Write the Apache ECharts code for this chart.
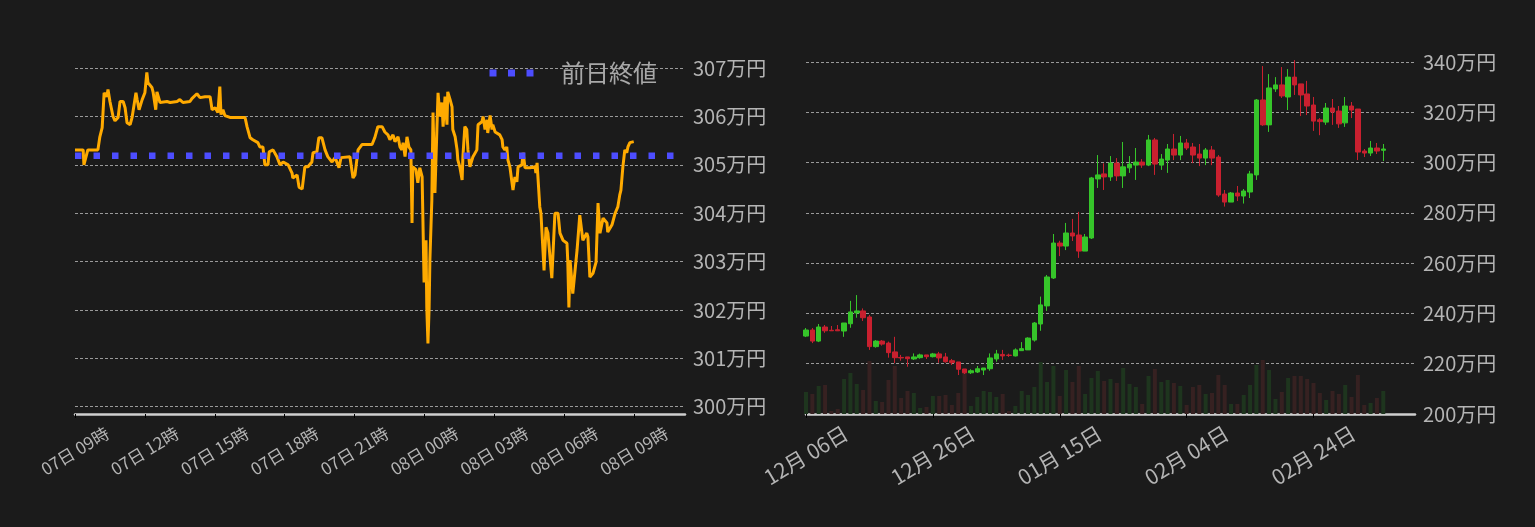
<!DOCTYPE html>
<html><head><meta charset="utf-8">
<script src="https://cdn.jsdelivr.net/npm/echarts@6/dist/echarts.min.js"></script>
<style>html,body{margin:0;padding:0;background:#1b1b1b;}#c{width:1535px;height:527px;}</style>
</head><body><div id="c"></div>
<script>
// ---- Intraday (left) : minutes since 07日 09:00, price in 万円 ----
const intradayMinutes = [0,21,23,28,33,59,64,70,75,82,85,90,95,98,103,111,116,124,129,134,142,147,149,157,160,165,173,180,185,188,198,201,208,211,214,219,237,245,263,270,278,296,301,314,322,335,348,353,361,368,373,376,381,386,399,417,438,443,451,458,471,476,484,489,497,500,510,520,528,536,549,559,561,572,577,585,587,592,600,610,613,623,628,636,644,651,662,670,680,685,708,716,721,729,739,765,772,780,791,798,806,811,819,824,832,837,842,845,850,855,860,865,868,870,878,883,888,894,896,899,901,904,906,909,912,914,919,922,927,932,935,940,945,948,953,958,960,966,971,973,979,984,986,991,997,999,1004,1009,1012,1017,1022,1025,1035,1038,1048,1051,1056,1061,1063,1069,1074,1076,1082,1087,1094,1100,1102,1107,1112,1115,1120,1125,1128,1133,1138,1141,1151,1154,1159,1172,1185,1187,1190,1195,1197,1200,1205,1208,1213,1218,1228,1236,1244,1249,1257,1267,1269,1272,1275,1280,1282,1293,1300,1308,1318,1321,1326,1334,1342,1347,1352,1360,1370,1372,1383,1391,1398,1403,1406,1411,1416,1421,1424,1429,1439];
const intradayPrices = [305.31,305.31,305.00,305.00,305.31,305.31,305.58,305.77,306.49,306.41,306.56,306.31,306.29,306.00,305.91,305.98,306.31,306.31,306.18,305.87,305.83,305.98,306.00,306.49,306.35,306.14,306.35,306.49,306.91,306.70,306.60,306.51,306.14,306.51,306.51,306.29,306.31,306.29,306.31,306.35,306.29,306.31,306.37,306.47,306.39,306.41,306.41,306.14,306.18,306.08,306.62,306.04,306.14,306.02,305.98,305.98,305.98,305.79,305.56,305.52,305.46,305.37,305.37,305.00,305.00,305.27,305.31,305.17,305.00,305.06,305.00,304.83,304.73,304.79,304.54,304.50,304.52,304.96,304.96,305.06,305.25,305.27,305.56,305.56,305.31,305.17,305.06,305.15,304.94,305.15,305.17,304.73,304.79,305.31,305.42,305.42,305.56,305.79,305.79,305.68,305.62,305.52,305.62,305.48,305.58,305.37,305.31,305.46,305.17,305.58,305.37,305.31,303.80,304.96,304.90,304.63,304.94,304.75,304.75,302.57,303.13,303.44,302.05,301.31,302.05,303.03,304.27,306.08,304.42,305.73,306.49,306.00,306.29,305.79,306.41,305.83,306.51,306.35,306.20,305.73,305.58,305.31,305.10,304.96,304.69,305.17,305.79,305.73,305.31,304.96,304.96,305.17,305.31,305.83,305.89,306.00,305.73,305.93,305.66,306.02,305.73,305.83,305.68,305.66,305.62,305.52,305.37,305.31,305.37,305.10,304.96,304.94,304.48,304.75,304.65,304.96,305.00,305.25,304.94,304.94,304.96,304.83,305.04,305.04,304.13,304.00,304.00,302.82,303.71,303.59,302.66,304.00,304.00,303.59,303.44,303.38,303.03,302.05,303.03,303.03,302.34,303.24,303.96,303.44,303.59,303.51,302.68,302.76,302.99,304.21,303.59,303.90,303.80,303.61,303.76,304.00,304.13,304.38,304.48,304.96,305.31,305.25,305.37,305.46,305.48];
const prevClose = 305.19;
const intradayAxisEnd = 1571;
const timeTickMinutes = [0,180,360,540,720,900,1080,1260,1440];
const timeTickLabels = ['07日 09時','07日 12時','07日 15時','07日 18時','07日 21時','08日 00時','08日 03時','08日 06時','08日 09時'];

// ---- Daily candles (right), 万円 ----
const dailyStart = Date.UTC(2023, 11, 6);
const dailyCategoryCount = 97;
const opens  = [231.0,233.4,229.0,234.6,233.3,233.5,233.0,235.9,240.2,241.0,238.6,226.8,229.0,228.2,224.7,222.5,222.7,221.9,222.4,223.5,222.8,223.9,222.7,221.2,220.7,217.9,216.4,216.7,217.5,218.0,221.9,223.7,223.4,223.1,225.2,225.5,229.4,235.8,243.0,254.1,268.0,266.8,272.0,271.2,264.8,270.0,293.5,295.5,294.3,299.8,294.7,297.9,299.0,300.2,299.0,309.0,299.0,301.0,305.4,303.0,307.8,306.2,303.4,301.8,305.0,302.2,287.5,284.3,287.9,286.7,288.3,295.1,324.9,315.0,329.3,330.9,326.1,334.0,331.3,327.3,322.9,317.0,316.1,321.7,320.5,315.8,322.5,321.3,304.6,303.8,305.8,304.9];
const closes = [233.4,229.0,234.6,233.1,233.1,233.1,236.2,240.6,241.0,238.3,226.8,229.0,227.8,224.4,222.4,222.3,222.0,222.7,223.5,222.8,223.9,222.3,220.8,220.4,217.8,216.4,217.2,218.0,218.3,222.3,223.9,223.1,223.3,225.5,226.0,230.2,236.2,243.4,254.5,268.0,266.8,272.0,270.8,264.8,270.4,293.9,295.1,294.3,299.8,294.7,298.3,299.4,300.2,299.0,309.0,299.4,301.4,305.4,303.0,307.8,305.8,303.0,301.8,305.0,301.8,287.1,284.3,287.9,286.7,288.7,295.5,324.9,315.0,329.7,330.9,326.5,334.0,330.9,326.9,322.5,316.5,316.3,321.7,320.1,315.4,322.5,320.9,304.2,303.8,305.8,304.6,305.4];
const lows   = [230.6,228.2,228.6,232.3,233.1,233.0,230.7,234.3,238.3,237.0,225.5,226.4,227.2,222.4,220.2,221.2,218.8,221.5,222.0,221.9,222.5,220.4,220.4,219.5,215.5,215.9,215.9,216.3,215.5,217.2,220.8,221.5,222.7,222.9,225.2,225.5,228.8,233.1,241.0,253.7,262.8,265.2,268.8,262.1,264.8,269.6,289.9,289.1,292.7,292.7,289.9,295.9,293.1,297.9,298.6,295.1,297.1,295.9,301.0,301.0,305.0,299.8,298.6,299.0,299.0,286.4,282.5,284.3,284.7,283.7,285.9,293.1,314.6,312.2,328.1,325.7,320.9,326.9,318.5,318.9,312.6,310.9,315.0,315.0,313.8,314.2,317.7,301.0,302.2,302.6,303.4,300.6];
const highs  = [234.2,234.2,235.8,235.4,235.0,235.4,236.2,245.0,247.3,242.0,239.4,229.4,229.4,228.8,230.7,223.5,222.7,224.1,224.0,223.5,224.3,224.7,224.3,221.9,220.7,217.9,217.8,219.1,218.3,224.1,225.5,225.5,224.0,226.1,228.6,230.5,236.6,246.7,255.3,271.6,268.9,276.0,277.6,280.4,271.6,294.3,303.0,299.7,302.6,301.8,308.2,302.6,305.8,301.4,311.0,309.8,303.4,307.4,311.4,310.6,309.4,307.8,307.4,305.8,306.6,303.0,289.1,288.3,290.7,289.5,296.7,325.3,338.4,335.2,334.0,338.0,337.2,340.8,331.3,332.5,326.1,317.7,323.7,325.3,322.5,326.1,324.1,321.3,305.4,308.6,307.8,307.4];
const volumes = [22,20,28,29,3,5,35,41,30,24,53,13,12,34,48,16,23,21,6,7,18,18,19,9,21,42,8,17,23,22,17,20,3,8,23,19,27,52,32,48,18,44,32,48,20,36,43,33,35,31,46,30,27,10,38,45,32,34,31,28,9,27,29,20,21,39,29,10,10,19,29,49,54,44,15,22,36,38,38,35,31,21,14,23,20,29,17,39,9,11,16,23];
const volumeAxisMax = 357;

const dailyLabels = [];
for (let i = 0; i < dailyCategoryCount; i++) {
  const d = new Date(dailyStart + i * 86400000);
  dailyLabels.push(String(d.getUTCMonth() + 1).padStart(2, '0') + '月 ' + String(d.getUTCDate()).padStart(2, '0') + '日');
}

const FONT = '"Noto Sans CJK JP", "Noto Sans", sans-serif';
const LABEL = '#b4b4b4';
const UP = '#36c52a', DOWN = '#c9202f';
const splitLineStyle = { show: true, showMinLine: false, showMaxLine: false, lineStyle: { color: '#9a9a9a', type: [3, 2], width: 1 } };
const axisLineStyle = { show: true, lineStyle: { color: '#cfcfcf', width: 2.5 } };
const yLabelFmt = v => Math.round(v) + '万円';

const chart = echarts.init(document.getElementById('c'));
chart.setOption({
  animation: false,
  backgroundColor: '#1b1b1b',
  textStyle: { fontFamily: FONT },
  legend: {
    data: [{ name: '前日終値', icon: 'path://M0,0h7v7h-7z M18.5,0h7v7h-7z M37,0h7v7h-7z' }],
    right: 873, top: 56,
    itemWidth: 45, itemHeight: 7,
    textStyle: { color: '#a8a8a8', fontSize: 24, fontFamily: FONT, padding: [0, 0, 0, 22] }
  },
  grid: [
    { left: 75, right: 850, top: 57, bottom: 113 },
    { left: 806, right: 120, top: 57, bottom: 113 }
  ],
  xAxis: [
    {
      type: 'value', gridIndex: 0, min: 0, max: intradayAxisEnd,
      axisLine: axisLineStyle,
      axisTick: { show: true, customValues: timeTickMinutes, length: 4, lineStyle: { color: '#000' } },
      axisLabel: {
        customValues: timeTickMinutes,
        formatter: v => timeTickLabels[timeTickMinutes.indexOf(v)] || '',
        rotate: 31, align: 'center', verticalAlign: 'middle', margin: 37,
        color: LABEL, fontSize: 17, fontFamily: FONT
      },
      splitLine: { show: false }
    },
    {
      type: 'category', gridIndex: 1, data: dailyLabels, boundaryGap: false,
      axisLine: axisLineStyle,
      axisTick: { show: true, interval: 19, length: 4, lineStyle: { color: '#000' } },
      axisLabel: {
        interval: 19, rotate: 31, align: 'center', verticalAlign: 'middle', margin: 41,
        color: LABEL, fontSize: 21, fontFamily: FONT
      },
      splitLine: { show: false }
    }
  ],
  yAxis: [
    {
      type: 'value', gridIndex: 0, position: 'right', min: 299.85, max: 307.23, splitNumber: 8,
      axisLine: { show: false }, axisTick: { show: false },
      axisLabel: { formatter: yLabelFmt, color: LABEL, fontSize: 20, margin: 8, showMinLabel: false, showMaxLabel: false, fontFamily: FONT },
      splitLine: splitLineStyle
    },
    {
      type: 'value', gridIndex: 1, position: 'right', min: 200, max: 342, interval: 20,
      axisLine: { show: false }, axisTick: { show: false },
      axisLabel: { formatter: yLabelFmt, color: LABEL, fontSize: 20, margin: 8, showMaxLabel: false, fontFamily: FONT },
      splitLine: splitLineStyle
    },
    { type: 'value', gridIndex: 1, min: 0, max: volumeAxisMax, show: false, splitLine: { show: false } }
  ],
  series: [
    {
      name: 'price', type: 'line', xAxisIndex: 0, yAxisIndex: 0, symbol: 'none',
      data: intradayMinutes.map((m, i) => [m, intradayPrices[i]]),
      lineStyle: { color: '#ffaa00', width: 3 }, itemStyle: { color: '#ffaa00' }, z: 3
    },
    {
      name: '前日終値', type: 'line', xAxisIndex: 0, yAxisIndex: 0, symbol: 'none',
      data: [[0, prevClose], [intradayAxisEnd, prevClose]],
      color: '#4d4dff',
      lineStyle: { color: '#4d4dff', width: 6.5, type: [6.5, 12], cap: 'butt' }, itemStyle: { color: '#4d4dff' }, z: 4
    },
    {
      name: 'volume', type: 'bar', xAxisIndex: 1, yAxisIndex: 2, barWidth: 4,
      data: volumes.map((v, i) => ({ value: v, itemStyle: { color: closes[i] >= opens[i] ? '#1e351e' : '#362121' } })),
      z: 1
    },
    {
      name: 'daily', type: 'candlestick', xAxisIndex: 1, yAxisIndex: 1, barWidth: 5,
      data: opens.map((o, i) => [o, closes[i], lows[i], highs[i]]),
      itemStyle: { color: UP, color0: DOWN, borderColor: UP, borderColor0: DOWN, borderWidth: 1 },
      z: 3
    }
  ]
});
</script>
</body></html>
